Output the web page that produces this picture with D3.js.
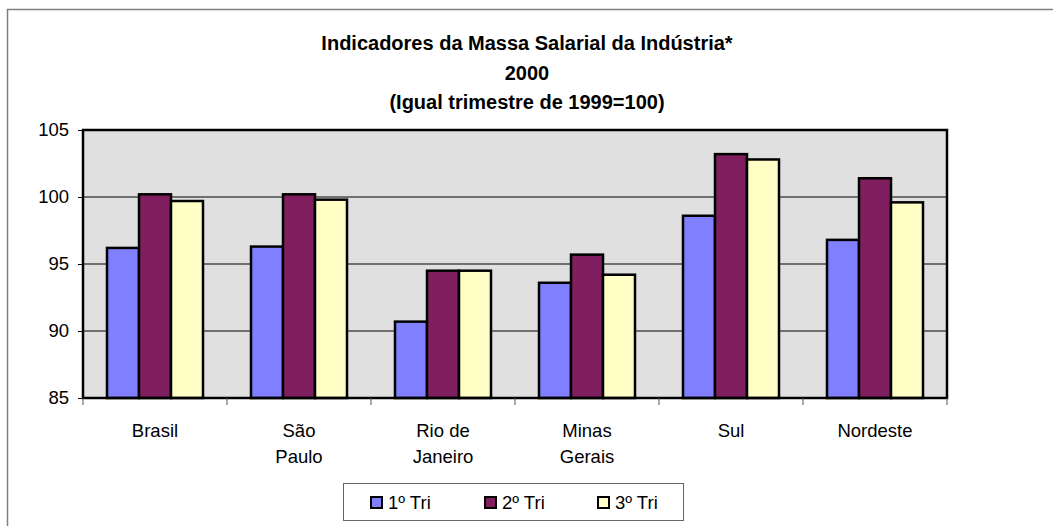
<!DOCTYPE html>
<html>
<head>
<meta charset="utf-8">
<script src="https://cdn.jsdelivr.net/npm/d3@7"></script>
<style>
  body { margin: 0; background: #fff; }
  text { font-family: "Liberation Sans", Arial, sans-serif; fill: #000; }
</style>
</head>
<body>
<div id="chart"></div>
<script>
// data
var categories = ['Brasil', 'São\nPaulo', 'Rio de\nJaneiro', 'Minas\nGerais', 'Sul', 'Nordeste'];
var seriesNames = ['1º Tri', '2º Tri', '3º Tri'];
var tri1 = [96.2, 96.3, 90.7, 93.6, 98.6, 96.8];
var tri2 = [100.2, 100.2, 94.5, 95.7, 103.2, 101.4];
var tri3 = [99.7, 99.8, 94.5, 94.2, 102.8, 99.6];
var yTicks = [85, 90, 95, 100, 105];
var titleLines = ['Indicadores da Massa Salarial da Indústria*', '2000', '(Igual trimestre de 1999=100)'];

var colors = ['#8080ff', '#7f1f5f', '#ffffc6'];
var seriesValues = [tri1, tri2, tri3];

var w = 1053, h = 526;
var pLeft = 83, pRight = 947, pTop = 130, pBottom = 398;

var svg = d3.select('#chart').append('svg')
    .attr('width', w)
    .attr('height', h);

// outer chart frame (top and left edges visible)
svg.append('path')
    .attr('d', 'M7.5,' + h + 'V9.5H' + w)
    .attr('fill', 'none')
    .attr('stroke', '#808080')
    .attr('stroke-width', 1.5);

// title
svg.selectAll('.title')
    .data(titleLines)
    .enter()
    .append('text')
    .attr('class', 'title')
    .attr('x', 527)
    .attr('y', function (d, i) { return [50, 80, 109][i]; })
    .attr('text-anchor', 'middle')
    .attr('font-size', '20px')
    .attr('font-weight', 'bold')
    .text(function (d) { return d; });

var y = d3.scaleLinear().domain([85, 105]).range([pBottom, pTop]);
var x0 = d3.scaleBand().domain(categories).range([pLeft, pRight]).padding(0);
var x1 = d3.scaleBand().domain(seriesNames).range([0, x0.bandwidth()]).paddingInner(0).paddingOuter(0.75);

// plot background
svg.append('rect')
    .attr('x', pLeft).attr('y', pTop)
    .attr('width', pRight - pLeft).attr('height', pBottom - pTop)
    .attr('fill', '#e0e0e0');

// gridlines
svg.selectAll('.grid')
    .data(yTicks.slice(1, -1))
    .enter()
    .append('line')
    .attr('x1', pLeft).attr('x2', pRight)
    .attr('y1', function (d) { return y(d); })
    .attr('y2', function (d) { return y(d); })
    .attr('stroke', '#000')
    .attr('stroke-width', 1);

// bars
var groups = svg.selectAll('.grp')
    .data(categories)
    .enter()
    .append('g')
    .attr('transform', function (d) { return 'translate(' + x0(d) + ',0)'; });

groups.selectAll('rect')
    .data(function (d, ci) {
        return seriesNames.map(function (s, si) { return { s: s, si: si, v: seriesValues[si][ci] }; });
    })
    .enter()
    .append('rect')
    .attr('x', function (d) { return x1(d.s); })
    .attr('y', function (d) { return y(d.v); })
    .attr('width', x1.bandwidth())
    .attr('height', function (d) { return pBottom - y(d.v); })
    .attr('fill', function (d) { return colors[d.si]; })
    .attr('stroke', '#000')
    .attr('stroke-width', 2.5);

// plot border
svg.append('rect')
    .attr('x', pLeft).attr('y', pTop)
    .attr('width', pRight - pLeft).attr('height', pBottom - pTop)
    .attr('fill', 'none')
    .attr('stroke', '#000')
    .attr('stroke-width', 2.5);

// y axis
var yAxis = svg.append('g')
    .attr('transform', 'translate(' + pLeft + ',0)')
    .call(d3.axisLeft(y).tickValues(yTicks).tickSize(5).tickPadding(9));
yAxis.select('.domain').remove();
yAxis.selectAll('line').attr('stroke', '#000');
yAxis.selectAll('text')
    .attr('font-size', '18.5px')
    .attr('font-family', '"Liberation Sans", Arial, sans-serif')
    .attr('fill', '#000');

// x ticks at category boundaries
var bounds = categories.map(function (c) { return x0(c); }).concat([pRight]);
svg.selectAll('.xtick')
    .data(bounds)
    .enter()
    .append('line')
    .attr('x1', function (d) { return d; }).attr('x2', function (d) { return d; })
    .attr('y1', pBottom).attr('y2', pBottom + 7)
    .attr('stroke', '#555')
    .attr('stroke-width', 1);

// x labels
var xl = svg.selectAll('.xlabel')
    .data(categories)
    .enter()
    .append('text')
    .attr('text-anchor', 'middle')
    .attr('font-size', '18.5px');
xl.selectAll('tspan')
    .data(function (d) { return d.split('\n').map(function (t) { return { t: t, c: d }; }); })
    .enter()
    .append('tspan')
    .attr('x', function (d) { return x0(d.c) + x0.bandwidth() / 2; })
    .attr('y', function (d, i) { return 437 + i * 26; })
    .text(function (d) { return d.t; });

// legend
var lg = svg.append('g');
lg.append('rect')
    .attr('x', 343.5).attr('y', 483.5)
    .attr('width', 340).attr('height', 37)
    .attr('fill', '#fff')
    .attr('stroke', '#666')
    .attr('stroke-width', 1);

var legendX = [371, 485, 598];
var items = lg.selectAll('.li')
    .data(seriesNames)
    .enter()
    .append('g')
    .attr('transform', function (d, i) { return 'translate(' + legendX[i] + ',497)'; });
items.append('rect')
    .attr('width', 11).attr('height', 11)
    .attr('fill', function (d, i) { return colors[i]; })
    .attr('stroke', '#000')
    .attr('stroke-width', 2);
items.append('text')
    .attr('x', 17).attr('y', 12)
    .attr('font-size', '18.5px')
    .text(function (d) { return d; });
</script>
</body>
</html>
